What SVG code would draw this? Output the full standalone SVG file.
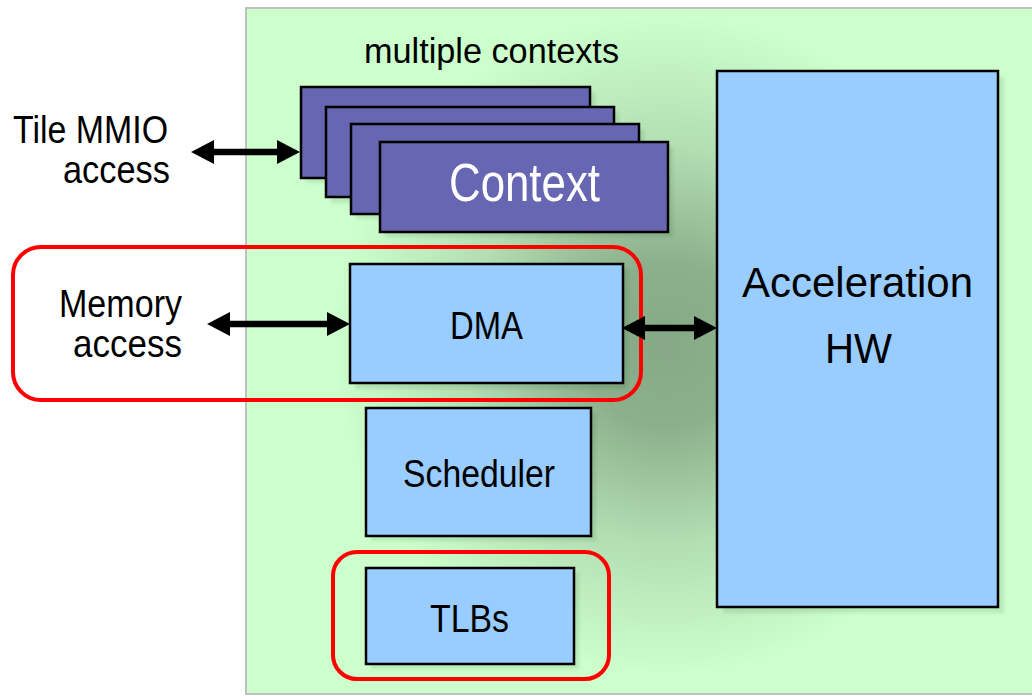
<svg xmlns="http://www.w3.org/2000/svg" width="1032" height="700" viewBox="0 0 1032 700">
  <defs>
    <radialGradient id="panelGlow" gradientUnits="userSpaceOnUse" cx="665" cy="345" r="330">
      <stop offset="0" stop-color="#86a886"/>
      <stop offset="0.25" stop-color="#8cb08c"/>
      <stop offset="0.6" stop-color="#b2deb2"/>
      <stop offset="1" stop-color="#ccffcc"/>
    </radialGradient>
    <filter id="soft" x="-10%" y="-10%" width="120%" height="120%">
      <feGaussianBlur stdDeviation="1.5"/>
    </filter>
    <marker id="head" viewBox="0 0 23 24" refX="11" refY="12" markerWidth="23" markerHeight="24" markerUnits="userSpaceOnUse" orient="auto-start-reverse">
      <path d="M0,0 L23,12 L0,24 Z" fill="#000"/>
    </marker>
  </defs>
  <style>
    text { font-family: "Liberation Sans", Arial, sans-serif; fill: #000; }
    .box { fill: #99ccff; stroke: #000; stroke-width: 2.5; }
    .ctx { fill: #6666b2; stroke: #000; stroke-width: 2.5; }
    .shadow { fill: #003300; fill-opacity: 0.1; filter: url(#soft); }
    .hl { fill: none; stroke: #ff0000; stroke-width: 4; }
    .link { stroke: #000; stroke-width: 6.5; fill: none; marker-start: url(#head); marker-end: url(#head); }
    .lbl { font-size: 39px; }
  </style>

  <rect width="1032" height="700" fill="#ffffff"/>

  <!-- tile panel -->
  <g id="tile">
    <rect x="246" y="8" width="800" height="686" fill="url(#panelGlow)" stroke="#c0c0c0" stroke-width="2"/>
  </g>

  <!-- external labels -->
  <g id="mmio-label">
    <text class="lbl" x="13" y="143" textLength="155" lengthAdjust="spacingAndGlyphs">Tile MMIO</text>
    <text class="lbl" x="63" y="183" textLength="107" lengthAdjust="spacingAndGlyphs">access</text>
  </g>
  <g id="memory-label">
    <text class="lbl" x="59" y="317" textLength="123" lengthAdjust="spacingAndGlyphs">Memory</text>
    <text class="lbl" x="73" y="357" textLength="109" lengthAdjust="spacingAndGlyphs">access</text>
  </g>

  <!-- context stack -->
  <g id="contexts">
    <text x="364" y="63" font-size="35" textLength="255" lengthAdjust="spacingAndGlyphs">multiple contexts</text>
    <rect class="shadow" x="306" y="92" width="289" height="91"/>
    <rect class="ctx" x="301" y="87" width="289" height="91"/>
    <rect class="shadow" x="331" y="112" width="288" height="91"/>
    <rect class="ctx" x="326" y="107" width="288" height="90"/>
    <rect class="shadow" x="356" y="129" width="288" height="90"/>
    <rect class="ctx" x="351" y="124" width="288" height="90"/>
    <rect class="shadow" x="385" y="147" width="288" height="90"/>
    <rect class="ctx" x="380" y="142" width="288" height="90"/>
    <text x="449" y="201" font-size="54" style="fill:#ffffff" textLength="151" lengthAdjust="spacingAndGlyphs">Context</text>
  </g>

  <!-- DMA engine -->
  <g id="dma">
    <rect class="shadow" x="355" y="269" width="273" height="120"/>
    <rect class="box" x="350" y="264" width="273" height="119"/>
    <text class="lbl" x="450" y="339" textLength="73" lengthAdjust="spacingAndGlyphs">DMA</text>
  </g>

  <!-- scheduler -->
  <g id="scheduler">
    <rect class="shadow" x="371" y="413" width="225" height="128"/>
    <rect class="box" x="366" y="408" width="225" height="128"/>
    <text class="lbl" x="403" y="487" textLength="152" lengthAdjust="spacingAndGlyphs">Scheduler</text>
  </g>

  <!-- TLBs -->
  <g id="tlbs">
    <rect class="shadow" x="371" y="573" width="208" height="96"/>
    <rect class="box" x="366" y="568" width="208" height="96"/>
    <text class="lbl" x="430" y="632" textLength="79" lengthAdjust="spacingAndGlyphs">TLBs</text>
  </g>

  <!-- acceleration hardware -->
  <g id="accel-hw">
    <rect class="shadow" x="723" y="77" width="281" height="536"/>
    <rect class="box" x="717" y="71" width="281" height="536"/>
    <text x="742" y="297" font-size="42" textLength="231" lengthAdjust="spacingAndGlyphs">Acceleration</text>
    <text x="825" y="363" font-size="42" textLength="67" lengthAdjust="spacingAndGlyphs">HW</text>
  </g>

  <!-- highlighted regions -->
  <g id="highlights">
    <rect class="hl" x="13" y="247" width="628" height="153" rx="28" ry="28"/>
    <rect class="hl" x="333" y="552" width="276" height="127" rx="24" ry="24"/>
  </g>

  <!-- connectors -->
  <g id="connectors">
    <line class="link" x1="203" y1="152" x2="288" y2="152"/>
    <line class="link" x1="219" y1="324" x2="338" y2="324"/>
    <line class="link" x1="634" y1="328" x2="705" y2="328"/>
  </g>
</svg>
